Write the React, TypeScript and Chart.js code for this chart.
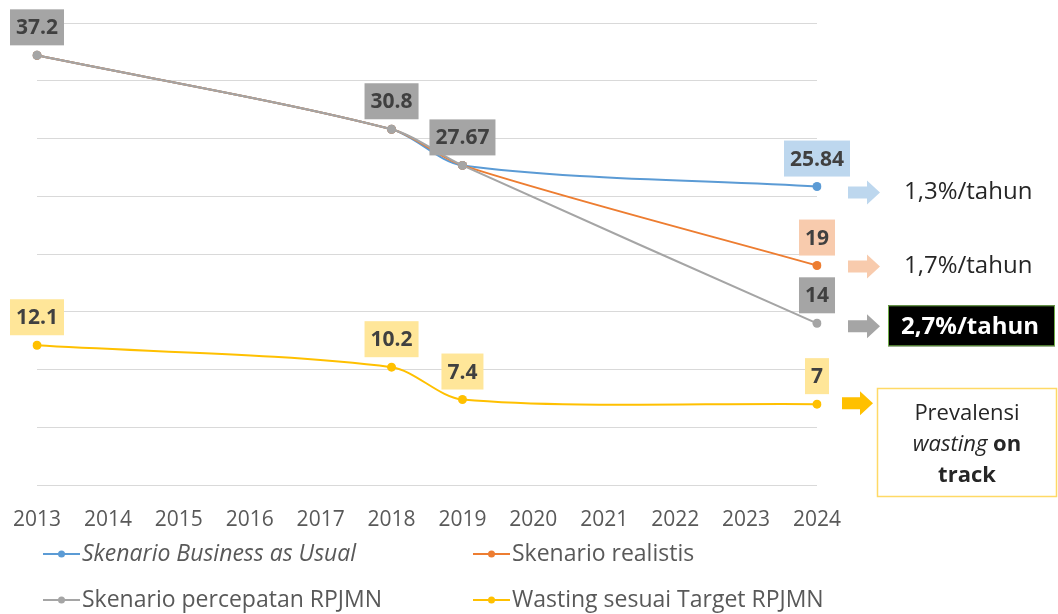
import React, { useEffect, useRef } from 'react';
import { Chart, registerables } from 'chart.js';

Chart.register(...registerables);

const years = ['2013', '2014', '2015', '2016', '2017', '2018', '2019', '2020', '2021', '2022', '2023', '2024'];
const bauValues = [37.2, null, null, null, null, 30.8, 27.67, null, null, null, null, 25.84];
const realistisValues = [37.2, null, null, null, null, 30.8, 27.67, null, null, null, null, 19];
const percepatanValues = [37.2, null, null, null, null, 30.8, 27.67, null, null, null, null, 14];
const wastingValues = [12.1, null, null, null, null, 10.2, 7.4, null, null, null, null, 7];
const seriesNames = ['Skenario Business as Usual', 'Skenario realistis', 'Skenario percepatan RPJMN', 'Wasting sesuai Target RPJMN'];
const rateLabels = ['1,3%/tahun', '1,7%/tahun', '2,7%/tahun'];
const trackLines = ['Prevalensi', 'wasting', 'on', 'track'];

const FONT = "'Open Sans', 'Noto Sans', sans-serif";
const lineColors = ['#5B9BD5', '#ED7D31', '#A5A5A5', '#FFC000'];
const boxColors = ['#BDD7EE', '#F8CBAD', '#A5A5A5', '#FFE699'];
const arrowColors = ['#BDD7EE', '#F8CBAD', '#A5A5A5', '#FFC000'];
// which points carry a value box: 'last' or 'all'
const labelModes = ['last', 'last', 'all', 'all'];

function drawArrow(ctx: CanvasRenderingContext2D, x0: number, x1: number, yc: number, color: string) {
  const shaftH = 12;
  const headH = 24;
  const headLen = 13;
  ctx.save();
  ctx.fillStyle = color;
  ctx.beginPath();
  ctx.moveTo(x0, yc - shaftH / 2);
  ctx.lineTo(x1 - headLen, yc - shaftH / 2);
  ctx.lineTo(x1 - headLen, yc - headH / 2);
  ctx.lineTo(x1, yc);
  ctx.lineTo(x1 - headLen, yc + headH / 2);
  ctx.lineTo(x1 - headLen, yc + shaftH / 2);
  ctx.lineTo(x0, yc + shaftH / 2);
  ctx.closePath();
  ctx.fill();
  ctx.restore();
}

// Office-style smoothing: tangent along neighbours, handle length scaled to each segment
const smoothPlugin = {
  id: 'officeSmooth',
  beforeDatasetsDraw(chart: any) {
    chart.getSortedVisibleDatasetMetas().forEach((meta: any) => {
      const line = meta.dataset;
      if (!line) return;
      line.updateControlPoints(chart.chartArea, meta.iScale.axis);
      const pts = meta.data.filter((p: any) => !p.skip);
      const k = 0.3;
      for (let i = 0; i < pts.length; i++) {
        const p = pts[i];
        const prev = pts[i - 1] || p;
        const next = pts[i + 1] || p;
        let tx = next.x - prev.x;
        let ty = next.y - prev.y;
        const tl = Math.hypot(tx, ty) || 1;
        tx /= tl;
        ty /= tl;
        const dPrev = Math.hypot(p.x - prev.x, p.y - prev.y) * k;
        const dNext = Math.hypot(next.x - p.x, next.y - p.y) * k;
        p.cp1x = p.x - tx * dPrev;
        p.cp1y = p.y - ty * dPrev;
        p.cp2x = p.x + tx * dNext;
        p.cp2y = p.y + ty * dNext;
      }
    });
  },
};

const overlayPlugin = {
  id: 'overlay',
  afterDatasetsDraw(chart: any) {
    const ctx: CanvasRenderingContext2D = chart.ctx;
    chart.data.datasets.forEach((ds: any, di: number) => {
      const meta = chart.getDatasetMeta(di);
      const lastIdx = ds.data.length - 1;
      ds.data.forEach((v: number | null, i: number) => {
        if (v === null) return;
        if (labelModes[di] === 'last' && i !== lastIdx) return;
        const pt = meta.data[i];
        const text = String(v);
        ctx.save();
        ctx.font = `bold 21px ${FONT}`;
        const w = ctx.measureText(text).width + 12;
        const h = 36;
        const cx = pt.x;
        const cy = pt.y - 28;
        ctx.fillStyle = boxColors[di];
        ctx.fillRect(cx - w / 2, cy - h / 2, w, h);
        ctx.fillStyle = '#404040';
        ctx.textAlign = 'center';
        ctx.textBaseline = 'middle';
        ctx.fillText(text, cx, cy + 1);
        ctx.restore();
      });
    });
  },
  afterDraw(chart: any) {
    const ctx: CanvasRenderingContext2D = chart.ctx;
    const yScale = chart.scales.y;
    const lastVals = [bauValues, realistisValues, percepatanValues, wastingValues].map((a) => a[a.length - 1] as number);
    const ys = lastVals.map((v) => yScale.getPixelForValue(v));

    const arrowY = [ys[0] + 6, ys[1] + 1, ys[2] + 3];
    for (let i = 0; i < 3; i++) {
      drawArrow(ctx, 848, 880, arrowY[i], arrowColors[i]);
    }
    ctx.save();
    ctx.font = `24px ${FONT}`;
    ctx.fillStyle = '#262626';
    ctx.textBaseline = 'middle';
    ctx.textAlign = 'left';
    ctx.fillText(rateLabels[0], 904, arrowY[0]);
    ctx.fillText(rateLabels[1], 904, arrowY[1]);
    ctx.fillStyle = '#000000';
    ctx.fillRect(888, arrowY[2] - 21, 167, 41);
    ctx.strokeStyle = '#70AD47';
    ctx.lineWidth = 1;
    ctx.strokeRect(888.5, arrowY[2] - 20.5, 166, 40);
    ctx.font = `bold 24px ${FONT}`;
    ctx.fillStyle = '#FFFFFF';
    ctx.fillText(rateLabels[2], 901, arrowY[2] + 1);
    ctx.restore();

    const wy = ys[3] - 1;
    drawArrow(ctx, 842, 873, wy, arrowColors[3]);
    ctx.save();
    ctx.fillStyle = '#FFFFFF';
    ctx.fillRect(877, 388, 180, 109);
    ctx.strokeStyle = '#FFD966';
    ctx.lineWidth = 1.5;
    ctx.strokeRect(877.5, 388.5, 179, 108);
    ctx.fillStyle = '#262626';
    ctx.textBaseline = 'middle';
    ctx.textAlign = 'center';
    const cx = 967;
    ctx.font = `22px ${FONT}`;
    ctx.fillText(trackLines[0], cx, 414);
    ctx.font = `italic 22px ${FONT}`;
    const w1 = ctx.measureText(trackLines[1] + ' ').width;
    ctx.font = `bold 22px ${FONT}`;
    const w2 = ctx.measureText(trackLines[2]).width;
    const start = cx - (w1 + w2) / 2;
    ctx.textAlign = 'left';
    ctx.font = `italic 22px ${FONT}`;
    ctx.fillText(trackLines[1] + ' ', start, 445);
    ctx.font = `bold 22px ${FONT}`;
    ctx.fillText(trackLines[2], start + w1, 445);
    ctx.textAlign = 'center';
    ctx.fillText(trackLines[3], cx, 476);
    ctx.restore();

    const legendPos = [
      [43, 554],
      [473, 554],
      [43, 600],
      [473, 600],
    ];
    ctx.save();
    for (let i = 0; i < 4; i++) {
      const [lx, ly] = legendPos[i];
      ctx.strokeStyle = lineColors[i];
      ctx.lineWidth = 2;
      ctx.beginPath();
      ctx.moveTo(lx, ly);
      ctx.lineTo(lx + 37, ly);
      ctx.stroke();
      ctx.fillStyle = lineColors[i];
      ctx.beginPath();
      ctx.arc(lx + 18.5, ly, 3.5, 0, Math.PI * 2);
      ctx.fill();
      ctx.font = (i === 0 ? 'italic ' : '') + `23px ${FONT}`;
      ctx.fillStyle = '#595959';
      ctx.textAlign = 'left';
      ctx.textBaseline = 'middle';
      ctx.fillText(seriesNames[i], lx + 39, ly);
    }
    ctx.restore();
  },
};

export default function App() {
  const ref = useRef<HTMLCanvasElement | null>(null);
  useEffect(() => {
    if (!ref.current) return;
    const valueSets = [bauValues, realistisValues, percepatanValues, wastingValues];
    const orders = [3, 2, 0, 1];
    const chart = new Chart(ref.current, {
      type: 'line',
      data: {
        labels: years,
        datasets: valueSets.map((vals, i) => ({
          label: seriesNames[i],
          data: vals,
          borderColor: lineColors[i],
          backgroundColor: lineColors[i],
          borderWidth: 2,
          pointRadius: 4.5,
          pointHoverRadius: 4.5,
          pointBorderWidth: 0,
          spanGaps: true,
          tension: 0.4,
          order: orders[i],
        })),
      },
      options: {
        animation: false,
        responsive: true,
        maintainAspectRatio: false,
        layout: { padding: { left: 37, right: 241, top: 23, bottom: 0 } },
        plugins: { legend: { display: false }, tooltip: { enabled: false } },
        scales: {
          x: {
            offset: false,
            grid: { display: false, drawTicks: false },
            border: { display: false },
            ticks: { color: '#595959', font: { family: FONT, size: 21 }, padding: 22, maxRotation: 0, autoSkip: false },
            afterFit: (s: any) => {
              s.height = 129;
              s.paddingLeft = 0;
              s.paddingRight = 0;
            },
          },
          y: {
            min: 0,
            max: 40,
            ticks: { display: false, stepSize: 5 },
            grid: { color: '#D9D9D9', lineWidth: 1, drawTicks: false },
            border: { display: false },
            afterFit: (s: any) => {
              s.width = 0;
            },
          },
        },
      },
      plugins: [smoothPlugin, overlayPlugin],
    });
    return () => chart.destroy();
  }, []);
  return (
    <div style={{ position: 'fixed', left: 0, top: 0, width: 1058, height: 614, background: '#fff' }}>
      <canvas ref={ref} />
    </div>
  );
}
